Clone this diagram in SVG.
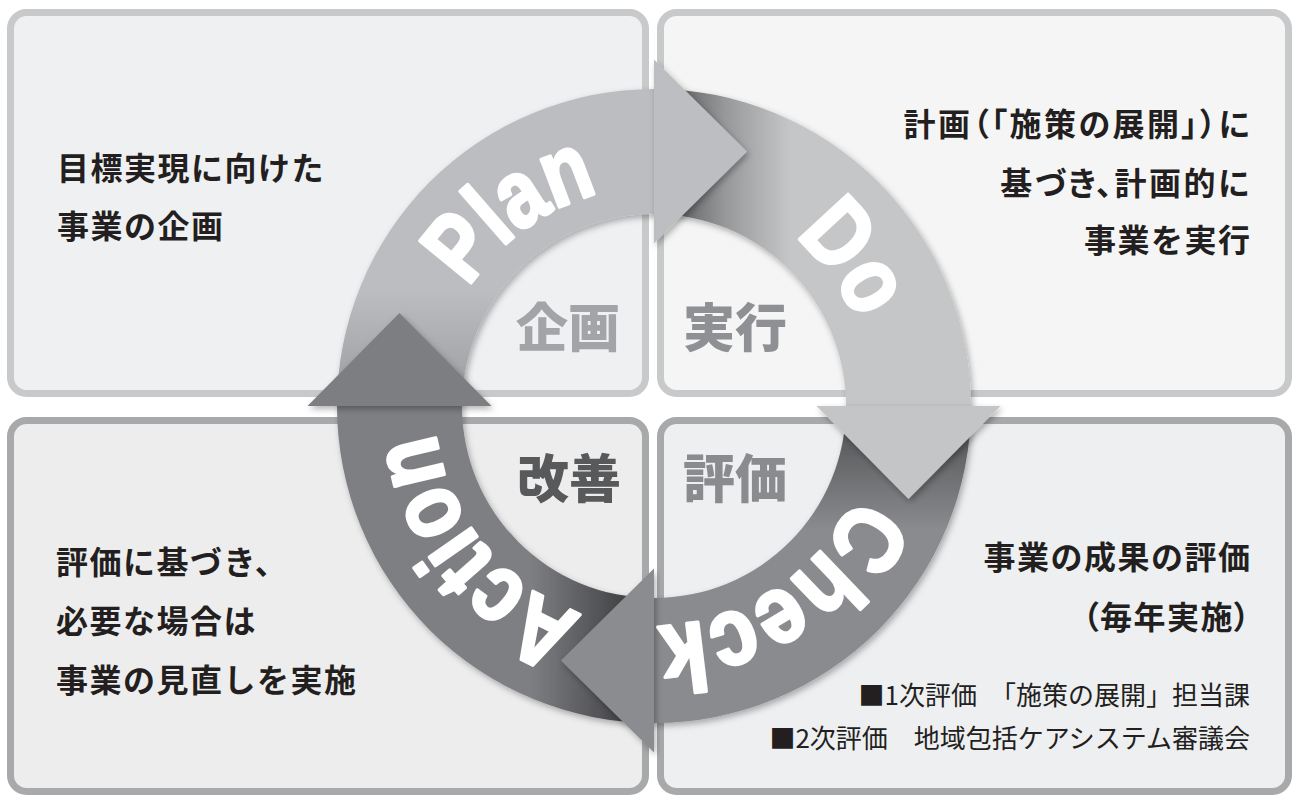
<svg xmlns="http://www.w3.org/2000/svg" xmlns:xlink="http://www.w3.org/1999/xlink" width="1298" height="799" viewBox="0 0 1298 799">
<style>
.box-t{stroke:#c8c9cb;stroke-width:7}
.box-b{stroke:#a8a9ab;stroke-width:7}
.jp{font-family:"Noto Sans CJK JP","Noto Sans CJK SC",sans-serif;fill:#231f20}
.main{font-size:32px;font-weight:700;letter-spacing:1.5px}
.palt{font-feature-settings:"palt"}
.small{font-size:26px;font-weight:400}
.inner{font-family:"Noto Sans CJK JP",sans-serif;font-size:52px;font-weight:900}
.ring-t{font-family:"Liberation Sans",Arial,sans-serif;font-weight:700;font-size:96px;fill:#fff;stroke:#fff;stroke-width:3.5;stroke-linejoin:round;text-anchor:middle}
</style>
<defs>
<filter id="sh" x="-20%" y="-20%" width="140%" height="140%">
<feDropShadow dx="2" dy="3" stdDeviation="3" flood-color="#000" flood-opacity="0.3"/>
</filter>
<linearGradient id="gPlan" gradientUnits="userSpaceOnUse" x1="0" y1="406" x2="0" y2="290">
<stop offset="0" stop-color="#9a9b9e"/><stop offset="1" stop-color="#bcbdc0"/>
</linearGradient>
<linearGradient id="gDo" gradientUnits="userSpaceOnUse" x1="660" y1="0" x2="790" y2="0">
<stop offset="0" stop-color="#4f5052"/><stop offset="0.5" stop-color="#979899"/><stop offset="1" stop-color="#c5c6c8"/>
</linearGradient>
<linearGradient id="gCheck" gradientUnits="userSpaceOnUse" x1="0" y1="410" x2="0" y2="530">
<stop offset="0" stop-color="#4c4d4f"/><stop offset="1" stop-color="#8a8b8e"/>
</linearGradient>
<linearGradient id="gAction" gradientUnits="userSpaceOnUse" x1="650" y1="0" x2="530" y2="0">
<stop offset="0" stop-color="#333436"/><stop offset="1" stop-color="#7e7f83"/>
</linearGradient>
<path id="pPlan" d="M456.3,502.4 A220,220 0 0 1 806.8,247.8"/>
<path id="pDo" d="M555.8,209.1 A220,220 0 0 1 813.6,557.4"/>
<path id="pCheck" d="M855.8,318.3 A220,220 0 0 1 494.4,557.4"/>
<path id="pAction" d="M760.7,598.4 A220,220 0 0 1 488.0,261.7"/>
</defs>
<rect width="1298" height="799" fill="#ffffff"/>

<g id="box-plan">
<rect class="box-t" x="10.5" y="12.5" width="635" height="381" rx="16" fill="#eff0f2"/>
<text class="jp main" x="57" y="180">目標実現に向けた</text>
<text class="jp main" x="57" y="238">事業の企画</text>
</g>
<g id="box-do">
<rect class="box-t" x="660.5" y="12.5" width="628" height="381" rx="16" fill="#f5f5f5"/>
<text class="jp main palt" x="1252" y="136" text-anchor="end" style="letter-spacing:2.5px">計画（「施策の展開」）に</text>
<text class="jp main palt" x="1251.5" y="195" text-anchor="end" style="letter-spacing:2.5px">基づき、計画的に</text>
<text class="jp main" x="1251.5" y="252" text-anchor="end">事業を実行</text>
</g>
<g id="box-action">
<rect class="box-b" x="10.5" y="420.5" width="635" height="371" rx="16" fill="#ededee"/>
<text class="jp main" x="56" y="574">評価に基づき、</text>
<text class="jp main" x="56" y="633">必要な場合は</text>
<text class="jp main" x="56" y="692">事業の見直しを実施</text>
</g>
<g id="box-check">
<rect class="box-b" x="660.5" y="420.5" width="628" height="371" rx="16" fill="#eeeff1"/>
<text class="jp main" x="1251.5" y="569" text-anchor="end">事業の成果の評価</text>
<text class="jp main palt" x="1251.5" y="629" text-anchor="end">（毎年実施）</text>
<text class="jp small" x="1250" y="705" text-anchor="end">■1次評価　「施策の展開」担当課</text>
<text class="jp small" x="1250" y="748" text-anchor="end">■2次評価　地域包括ケアシステム審議会</text>
</g>

<g id="inner-labels">
<text class="inner" x="516" y="347" fill="#a3a4a7">企画</text>
<text class="inner" x="683" y="347" fill="#8f9093">実行</text>
<text class="inner" x="517" y="498" fill="#58595b">改善</text>
<text class="inner" x="683" y="498" fill="#8a8b8e">評価</text>
</g>

<g id="connectors">
<g id="ring-arcs" filter="url(#sh)">
<path id="arc-plan" d="M337,406 A317,317 0 0 1 654,89 L654,214 A192,192 0 0 0 462,406 Z" fill="url(#gPlan)"/>
<path id="arc-do" d="M654,89 A317,317 0 0 1 971,406 L846,406 A192,192 0 0 0 654,214 Z" fill="url(#gDo)"/>
<path id="arc-check" d="M971,406 A317,317 0 0 1 654,723 L654,598 A192,192 0 0 0 846,406 Z" fill="url(#gCheck)"/>
<path id="arc-action" d="M654,723 A317,317 0 0 1 337,406 L462,406 A192,192 0 0 0 654,598 Z" fill="url(#gAction)"/>
</g>
<g id="arrowheads" filter="url(#sh)">
<polygon id="head-plan" points="654,59.5 747,151.5 654,243.5" fill="#bdbec1"/>
<polygon id="head-do" points="1000.5,406 908.5,499 816.5,406" fill="#c4c5c7"/>
<polygon id="head-check" points="654,752.5 561,660.5 654,568.5" fill="#8b8c8f"/>
<polygon id="head-action" points="307.5,406 399.5,313 491.5,406" fill="#7d7e82"/>
</g>
<g id="ring-labels">
<text class="ring-t"><textPath href="#pPlan" xlink:href="#pPlan" startOffset="50%" textLength="165" lengthAdjust="spacingAndGlyphs">Plan</textPath></text>
<text class="ring-t"><textPath href="#pDo" xlink:href="#pDo" startOffset="50%" textLength="106" lengthAdjust="spacingAndGlyphs">Do</textPath></text>
<text class="ring-t"><textPath href="#pCheck" xlink:href="#pCheck" startOffset="50%" textLength="250" lengthAdjust="spacingAndGlyphs">Check</textPath></text>
<text class="ring-t"><textPath href="#pAction" xlink:href="#pAction" startOffset="50%" textLength="246" lengthAdjust="spacingAndGlyphs">Action</textPath></text>
</g>
</g>
</svg>
